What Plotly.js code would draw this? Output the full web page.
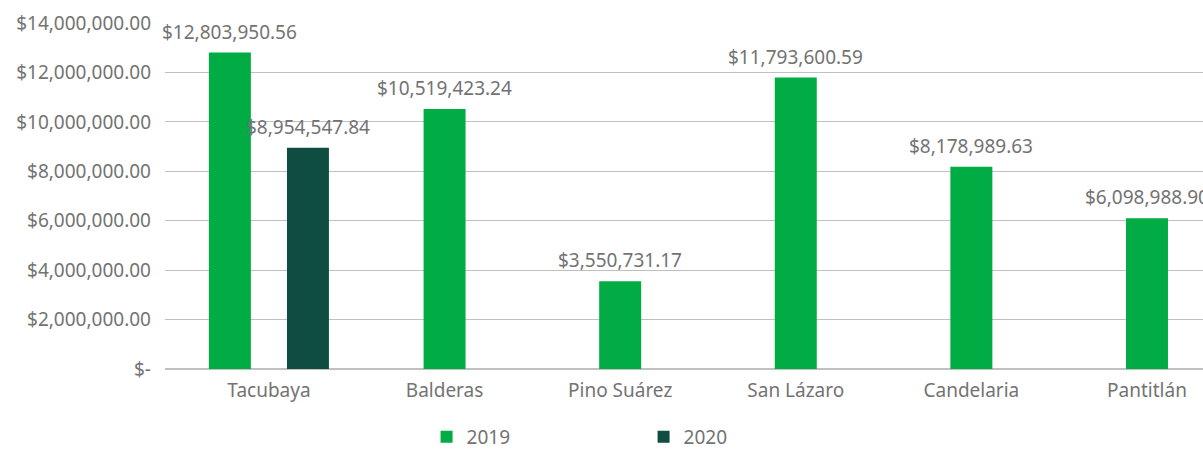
<!DOCTYPE html>
<html>
<head>
<meta charset="utf-8">
<script src="https://cdn.plot.ly/plotly-3.0.1.min.js"></script>
<style>html,body{margin:0;padding:0;background:#fff;}#chart{width:1203px;height:456px;}</style>
</head>
<body>
<div id="chart"></div>
<script>
const categories = ["Tacubaya", "Balderas", "Pino Suárez", "San Lázaro", "Candelaria", "Pantitlán"];
const values2019 = [12803950.56, 10519423.24, 3550731.17, 11793600.59, 8178989.63, 6098988.90];
const values2020 = [8954547.84, null, null, null, null, null];
const seriesNames = ["2019", "2020"];
const yTickValues = [0, 2000000, 4000000, 6000000, 8000000, 10000000, 12000000, 14000000];

const colors = ["#00AC43", "#0F4D42"];
const textColor = "#737373";
const fontFamily = "'Noto Sans', 'Open Sans', sans-serif";
const fontSize = 19;
const barWidth = 0.239;
const pairOffsets = [-0.342, 0.1025];

function money(v) {
  if (v === 0) return "$-";
  return "$" + v.toFixed(2).replace(/\B(?=(\d{3})+(?!\d))/g, ",");
}

const off2019 = values2020.map(v => v == null ? -barWidth / 2 : pairOffsets[0]);
const off2020 = values2020.map(() => pairOffsets[1]);

const traces = [
  {type: "bar", name: seriesNames[0], x: categories, y: values2019, width: barWidth,
   offset: off2019, marker: {color: colors[0]}, hoverinfo: "x+y"},
  {type: "bar", name: seriesNames[1], x: categories, y: values2020,
   width: barWidth, offset: off2020, marker: {color: colors[1]}, hoverinfo: "x+y"}
];

const annotations = [];
function addLabels(vals, offs) {
  vals.forEach((v, i) => {
    if (v == null) return;
    annotations.push({x: i + offs[i] + barWidth / 2, y: v, xref: "x", yref: "y",
      text: money(v), showarrow: false, yanchor: "bottom", yshift: 6,
      font: {family: fontFamily, size: fontSize, color: textColor}});
  });
}
addLabels(values2019, off2019);
addLabels(values2020, off2020);

const layout = {
  width: 1203, height: 456,
  margin: {l: 165, r: 0, t: 23, b: 86.5, autoexpand: false},
  paper_bgcolor: "#fff", plot_bgcolor: "#fff",
  barmode: "overlay",
  font: {family: fontFamily, size: fontSize, color: textColor},
  xaxis: {type: "category", range: [-0.592, 5.319], showgrid: false, showline: false,
    zeroline: false, ticks: "", ticklabelstandoff: 8, tickfont: {size: fontSize, color: textColor}},
  yaxis: {range: [0, 14000000], tickvals: yTickValues, ticktext: yTickValues.map(money),
    showgrid: true, gridcolor: "#c0c0c0", gridwidth: 1.2, zeroline: true, zerolinecolor: "#c0c0c0",
    zerolinewidth: 1.2, showline: false, ticks: "", ticklabelstandoff: 13,
    tickfont: {size: fontSize, color: textColor}},
  showlegend: true,
  legend: {orientation: "h", x: 0.252, xanchor: "left", yref: "container", y: -0.017, yanchor: "bottom",
    entrywidth: 172, font: {size: fontSize, color: textColor}},
  annotations: annotations
};

Plotly.newPlot("chart", traces, layout, {displayModeBar: false, staticPlot: true});
</script>
</body>
</html>
